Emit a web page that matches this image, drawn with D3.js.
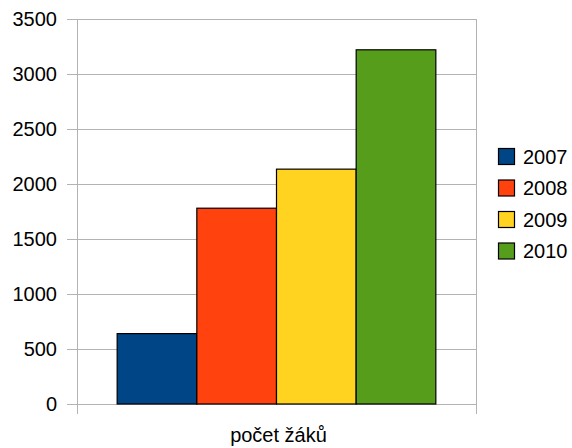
<!DOCTYPE html>
<html>
<head>
<meta charset="utf-8">
<script src="https://cdn.jsdelivr.net/npm/d3@7"></script>
<style>
body { margin: 0; background: #fff; }
text { font-family: "Liberation Sans", Arial, sans-serif; fill: #000; }
</style>
</head>
<body>
<div id="chart"></div>
<script>
var width = 572,
    height = 448;

var category = "počet žáků";
var years = ["2007", "2008", "2009", "2010"];
var values = [640, 1780, 2135, 3220];
var colors = ["#004586", "#ff420e", "#ffd320", "#579d1c"];
var yTicks = [0, 500, 1000, 1500, 2000, 2500, 3000, 3500];

var margin = {top: 19, left: 77, right: 96, bottom: 44};
var plotW = width - margin.left - margin.right,
    plotH = height - margin.top - margin.bottom;

var svg = d3.select("#chart").append("svg")
    .attr("width", width)
    .attr("height", height);

var g = svg.append("g")
    .attr("transform", "translate(" + margin.left + "," + margin.top + ")");

var y = d3.scaleLinear().domain([0, 3500]).range([plotH, 0]);
var x0 = d3.scaleBand().domain([category]).range([0, plotW]).paddingInner(0).paddingOuter(0.126);
var x1 = d3.scaleBand().domain(years).range([0, x0.bandwidth()]);

// gridlines + left ticks
g.append("g")
  .selectAll("line")
  .data(yTicks)
  .enter().append("line")
    .attr("x1", -10)
    .attr("x2", plotW)
    .attr("y1", function(d) { return Math.round(y(d)) + 0.5; })
    .attr("y2", function(d) { return Math.round(y(d)) + 0.5; })
    .attr("stroke", "#b3b3b3")
    .attr("stroke-width", 1);

g.append("g")
  .selectAll("text")
  .data(yTicks)
  .enter().append("text")
    .attr("x", -20)
    .attr("y", function(d) { return y(d); })
    .attr("dy", "0.35em")
    .attr("text-anchor", "end")
    .style("font-size", "20px")
    .text(function(d) { return d; });

// vertical axis lines (left and right edge)
[0, plotW].forEach(function(xx) {
  g.append("line")
    .attr("x1", xx + 0.5).attr("x2", xx + 0.5)
    .attr("y1", 0).attr("y2", plotH + 10)
    .attr("stroke", "#b3b3b3")
    .attr("stroke-width", 1);
});

// bars
g.append("g")
  .selectAll("rect")
  .data(years)
  .enter().append("rect")
    .attr("x", function(d) { return x0(category) + x1(d); })
    .attr("y", function(d, i) { return y(values[i]); })
    .attr("width", x1.bandwidth())
    .attr("height", function(d, i) { return plotH - y(values[i]); })
    .attr("fill", function(d, i) { return colors[i]; })
    .attr("stroke", "#000")
    .attr("stroke-width", 1.2);

// category label
svg.append("text")
  .attr("x", margin.left + x0(category) + x0.bandwidth() / 2 + 2)
  .attr("y", 442)
  .attr("text-anchor", "middle")
  .style("font-size", "20px")
  .text(category);

// legend
var legend = svg.append("g")
  .attr("transform", "translate(498,148)");

var item = legend.selectAll("g")
  .data(years)
  .enter().append("g")
    .attr("transform", function(d, i) { return "translate(0," + (i * 31.5) + ")"; });

item.append("rect")
  .attr("x", 0.5).attr("y", 0.5)
  .attr("width", 16).attr("height", 16)
  .attr("fill", function(d, i) { return colors[i]; })
  .attr("stroke", "#000")
  .attr("stroke-width", 1.2);

item.append("text")
  .attr("x", 25)
  .attr("y", 8.5)
  .attr("dy", "0.35em")
  .style("font-size", "20px")
  .text(function(d) { return d; });
</script>
</body>
</html>
